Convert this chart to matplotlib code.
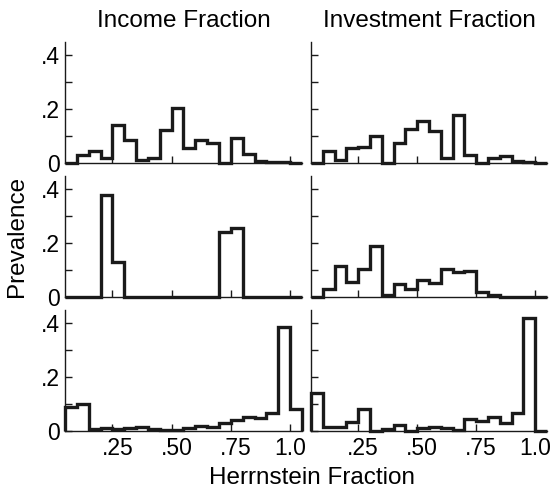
import numpy as np
import matplotlib
matplotlib.use("Agg")
import matplotlib.pyplot as plt
import matplotlib.transforms as mtransforms

plt.rcParams['font.family'] = ['Liberation Sans', 'DejaVu Sans']

# bin edges: 20 bins of width .05 running from .05 to 1.05
bin_edges = np.linspace(0.05, 1.05, 21)

# prevalence per bin
income_top = [0.0, 0.03, 0.045, 0.02, 0.14, 0.086, 0.01, 0.02, 0.124, 0.205,
              0.055, 0.084, 0.074, 0.0, 0.094, 0.034, 0.009, 0.003, 0.002, 0.0]
invest_top = [0.0, 0.045, 0.011, 0.055, 0.06, 0.10, 0.0, 0.075, 0.127, 0.157,
              0.12, 0.017, 0.18, 0.031, 0.0, 0.017, 0.027, 0.006, 0.002, 0.0]
income_mid = [0.0, 0.0, 0.0, 0.38, 0.129, 0.0, 0.0, 0.0, 0.0, 0.0,
              0.0, 0.0, 0.0, 0.241, 0.255, 0.0, 0.0, 0.0, 0.0, 0.0]
invest_mid = [0.0, 0.03, 0.116, 0.054, 0.103, 0.19, 0.009, 0.049, 0.031, 0.063,
              0.052, 0.105, 0.092, 0.095, 0.02, 0.009, 0.0, 0.0, 0.0, 0.0]
income_bot = [0.09, 0.10, 0.008, 0.012, 0.006, 0.012, 0.016, 0.008, 0.003, 0.004,
              0.012, 0.019, 0.015, 0.031, 0.041, 0.053, 0.05, 0.068, 0.385, 0.083]
invest_bot = [0.14, 0.016, 0.016, 0.034, 0.081, 0.0, 0.006, 0.022, 0.0, 0.012,
              0.014, 0.01, 0.003, 0.045, 0.036, 0.051, 0.031, 0.068, 0.42, 0.0]

panels = [[income_top, invest_top],
          [income_mid, invest_mid],
          [income_bot, invest_bot]]
col_titles = ["Income Fraction", "Investment Fraction"]

x_ticks = [0.25, 0.50, 0.75, 1.0]
x_ticklabels = [".25", ".50", ".75", "1.0"]
y_ticks = [0, 0.1, 0.2, 0.3, 0.4]
y_ticklabels = ["0", "", ".2", "", ".4"]

W, H = 553, 492
fig = plt.figure(figsize=(W / 100, H / 100), dpi=100)

col_left = [65, 311]
col_width = [237, 236]
row_bottom = [163, 297, 431]   # pixel y of the axes bottoms, from the top
row_height = 121

for r in range(3):
    for c in range(2):
        ax = fig.add_axes([col_left[c] / W, (H - row_bottom[r]) / H,
                           col_width[c] / W, row_height / H])
        ax.stairs(panels[r][c], bin_edges, color="#1a1a1a", lw=2.4,
                  baseline=0, clip_on=False)
        ax.set_xlim(0.05, 1.05)
        ax.set_ylim(0, 0.45)
        for s in ["top", "right"]:
            ax.spines[s].set_visible(False)
        for s in ["left", "bottom"]:
            ax.spines[s].set_linewidth(1.0)
            ax.spines[s].set_color("#1a1a1a")
        ax.tick_params(direction="in", length=5, width=1.0, color="#1a1a1a",
                       labelsize=16.5, pad=4)
        ax.set_xticks(x_ticks)
        ax.set_yticks(y_ticks)
        if r == 2:
            ax.set_xticklabels(x_ticklabels)
            # labels were centred as if the leading zero were there
            for lab in ax.get_xticklabels():
                if lab.get_text().startswith("."):
                    lab.set_transform(lab.get_transform() +
                                      mtransforms.ScaledTranslation(5 / 100, 0, fig.dpi_scale_trans))
        else:
            ax.set_xticklabels([])
        if c == 0:
            ax.set_yticklabels(y_ticklabels)
        else:
            ax.set_yticklabels([])
        if r == 0:
            ax.set_title(col_titles[c], fontsize=17.5, pad=11)

fig.text(17 / W, 1 - 236 / H, "Prevalence", rotation=90, fontsize=17.5,
         ha="center", va="center")
fig.text(312 / W, 1 - 478 / H, "Herrnstein Fraction", fontsize=17.5,
         ha="center", va="center")

fig.savefig("out.png", dpi=100)
